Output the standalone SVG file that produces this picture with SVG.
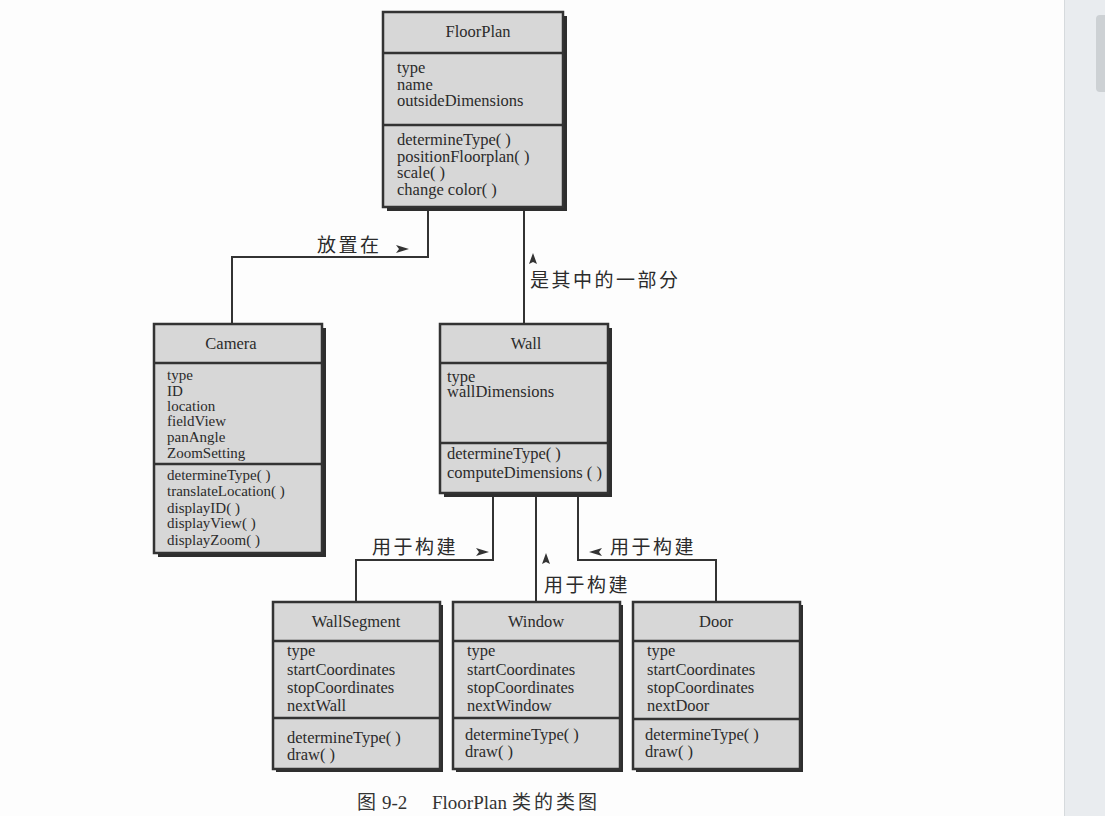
<svg xmlns="http://www.w3.org/2000/svg" width="1105" height="816" viewBox="0 0 1105 816">
<style>
.shadow{fill:#2e2e2e}
.box{fill:#d7d7d7;stroke:#333;stroke-width:2.5}
.div{stroke:#333;stroke-width:2.5}
.t{font-family:"Liberation Serif","Times New Roman",serif;font-size:16.5px;fill:#2b2b2b}
.s{font-size:15px}
.c{text-anchor:middle}
.cn{font-family:"Noto Sans CJK SC","Noto Sans",sans-serif;font-size:19px;letter-spacing:2.5px;fill:#2b2b2b}
.conn{fill:none;stroke:#333;stroke-width:2}
.arr{fill:#333}
.cap{font-family:"Liberation Serif","Noto Serif CJK SC","Noto Sans CJK SC",serif;font-size:19px;fill:#333}
.capcn{font-family:"Noto Sans CJK SC",sans-serif;font-size:19px;fill:#333}
</style>
<rect x="0" y="0" width="1105" height="816" fill="#fdfdfd"/>
<g id="scrollbar">
<rect x="1064" y="0" width="41" height="816" fill="#e9ecef"/>
<line x1="1064.5" y1="0" x2="1064.5" y2="816" stroke="#d6dadd" stroke-width="1"/>
<rect x="1096" y="15" width="14" height="77" rx="4" fill="#cdd1d4"/>
</g>
<g id="connectors">
<polyline class="conn" points="428,207 428,257 232,257 232,324"/>
<line class="conn" x1="524" y1="207" x2="524" y2="324"/>
<polyline class="conn" points="493,493 493,560 356,560 356,602"/>
<line class="conn" x1="536" y1="493" x2="536" y2="602"/>
<polyline class="conn" points="578,493 578,560 716,560 716,602"/>
<polygon class="arr" points="396,245 409,249 396,253 399,249"/>
<polygon class="arr" points="529,264 533,253 537,264 533,262"/>
<polygon class="arr" points="476,548 489,552 476,556 479,552"/>
<polygon class="arr" points="602,548 589,552 602,556 599,552"/>
<polygon class="arr" points="542,564 546,553 550,564 546,562"/>
<text class="cn" x="317" y="252">放置在</text>
<text class="cn" x="530" y="287">是其中的一部分</text>
<text class="cn" x="372" y="554">用于构建</text>
<text class="cn" x="610" y="554">用于构建</text>
<text class="cn" x="544" y="592">用于构建</text>
</g>
<g id="FloorPlan">
<rect class="shadow" x="387" y="16" width="180" height="195"/>
<rect class="box" x="383" y="12" width="180" height="195"/>
<line class="div" x1="383" y1="53" x2="563" y2="53"/>
<line class="div" x1="383" y1="125" x2="563" y2="125"/>
<text class="t c" x="478" y="37">FloorPlan</text>
<text class="t" x="397" y="73">type</text>
<text class="t" x="397" y="90">name</text>
<text class="t" x="397" y="106">outsideDimensions</text>
<text class="t" x="397" y="145">determineType( )</text>
<text class="t" x="397" y="162">positionFloorplan( )</text>
<text class="t" x="397" y="178">scale( )</text>
<text class="t" x="397" y="195">change color( )</text>
</g>
<g id="Camera">
<rect class="shadow" x="158" y="328" width="168" height="229"/>
<rect class="box" x="154" y="324" width="168" height="229"/>
<line class="div" x1="154" y1="363" x2="322" y2="363"/>
<line class="div" x1="154" y1="464" x2="322" y2="464"/>
<text class="t c" x="231" y="349">Camera</text>
<text class="t s" x="167" y="380">type</text>
<text class="t s" x="167" y="396">ID</text>
<text class="t s" x="167" y="411">location</text>
<text class="t s" x="167" y="426">fieldView</text>
<text class="t s" x="167" y="442">panAngle</text>
<text class="t s" x="167" y="458">ZoomSetting</text>
<text class="t s" x="167" y="480">determineType( )</text>
<text class="t s" x="167" y="496">translateLocation( )</text>
<text class="t s" x="167" y="513">displayID( )</text>
<text class="t s" x="167" y="528">displayView( )</text>
<text class="t s" x="167" y="545">displayZoom( )</text>
</g>
<g id="Wall">
<rect class="shadow" x="444" y="328" width="168" height="169"/>
<rect class="box" x="440" y="324" width="168" height="169"/>
<line class="div" x1="440" y1="363" x2="608" y2="363"/>
<line class="div" x1="440" y1="443" x2="608" y2="443"/>
<text class="t c" x="526" y="349">Wall</text>
<text class="t" x="447" y="382">type</text>
<text class="t" x="447" y="397">wallDimensions</text>
<text class="t" x="447" y="459">determineType( )</text>
<text class="t" x="447" y="478">computeDimensions ( )</text>
</g>
<g id="WallSegment">
<rect class="shadow" x="276" y="605" width="167" height="167"/>
<rect class="box" x="273" y="602" width="167" height="167"/>
<line class="div" x1="273" y1="641" x2="440" y2="641"/>
<line class="div" x1="273" y1="718" x2="440" y2="718"/>
<text class="t c" x="356" y="627">WallSegment</text>
<text class="t" x="287" y="656">type</text>
<text class="t" x="287" y="675">startCoordinates</text>
<text class="t" x="287" y="693">stopCoordinates</text>
<text class="t" x="287" y="711">nextWall</text>
<text class="t" x="287" y="743">determineType( )</text>
<text class="t" x="287" y="760">draw( )</text>
</g>
<g id="Window">
<rect class="shadow" x="456" y="605" width="167" height="167"/>
<rect class="box" x="453" y="602" width="167" height="167"/>
<line class="div" x1="453" y1="641" x2="620" y2="641"/>
<line class="div" x1="453" y1="718" x2="620" y2="718"/>
<text class="t c" x="536" y="627">Window</text>
<text class="t" x="467" y="656">type</text>
<text class="t" x="467" y="675">startCoordinates</text>
<text class="t" x="467" y="693">stopCoordinates</text>
<text class="t" x="467" y="711">nextWindow</text>
<text class="t" x="465" y="740">determineType( )</text>
<text class="t" x="465" y="757">draw( )</text>
</g>
<g id="Door">
<rect class="shadow" x="636" y="605" width="167" height="167"/>
<rect class="box" x="633" y="602" width="167" height="167"/>
<line class="div" x1="633" y1="641" x2="800" y2="641"/>
<line class="div" x1="633" y1="719" x2="800" y2="719"/>
<text class="t c" x="716" y="627">Door</text>
<text class="t" x="647" y="656">type</text>
<text class="t" x="647" y="675">startCoordinates</text>
<text class="t" x="647" y="693">stopCoordinates</text>
<text class="t" x="647" y="711">nextDoor</text>
<text class="t" x="645" y="740">determineType( )</text>
<text class="t" x="645" y="757">draw( )</text>
</g>
<g id="caption">
<text class="capcn" x="357" y="809">图</text>
<text class="cap" x="382" y="809">9-2</text>
<text class="cap" x="432" y="809">FloorPlan</text>
<text class="capcn" x="512" y="809" letter-spacing="3">类的类图</text>
</g>
</svg>
